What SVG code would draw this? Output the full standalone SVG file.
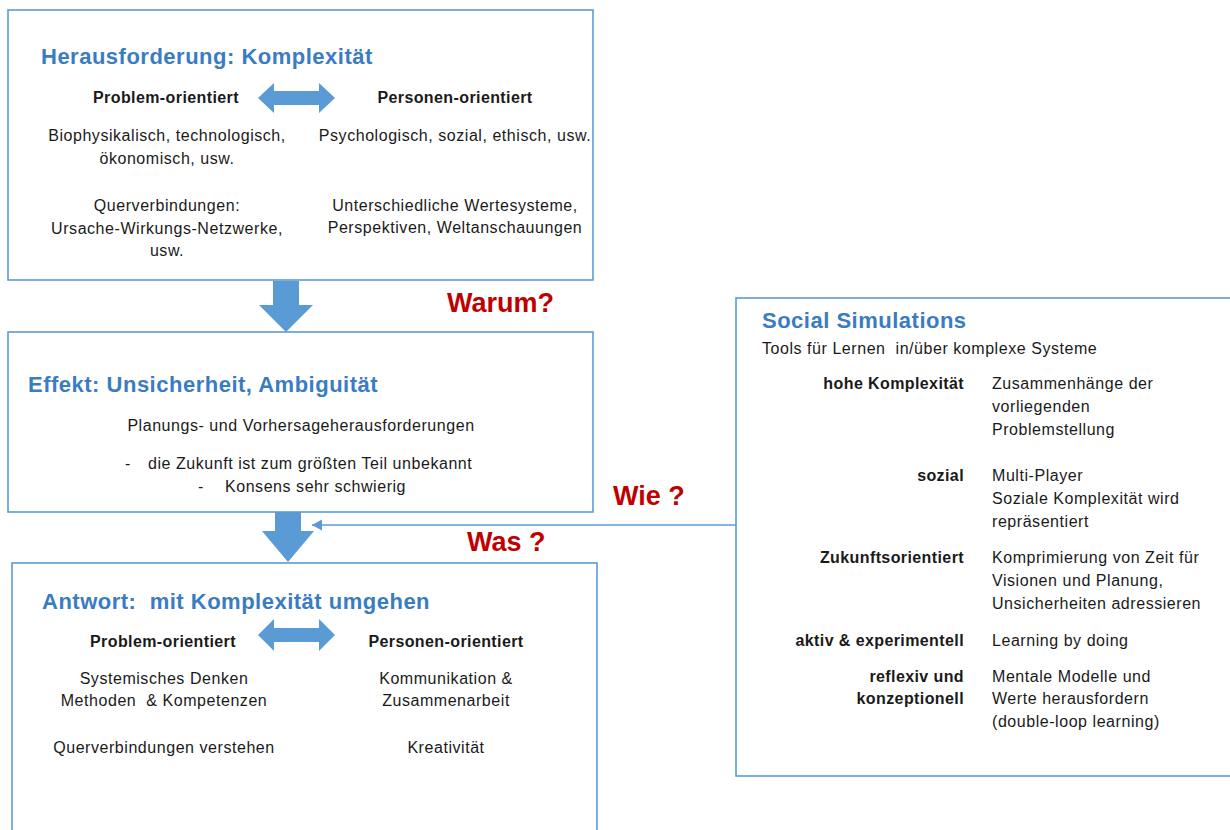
<svg xmlns="http://www.w3.org/2000/svg" width="1230" height="830" viewBox="0 0 1230 830">
<style>
text{white-space:pre}
.box{fill:#ffffff;stroke:#5b9bd5;stroke-width:1.6}
.blk{fill:#5b9bd5}
.title{font-family:"Liberation Sans",Arial,sans-serif;font-weight:bold;font-size:22px;letter-spacing:0.5px;fill:#3a7cc2}
.sub{font-family:"Liberation Sans",Arial,sans-serif;font-weight:bold;font-size:16px;letter-spacing:0.4px;fill:#1a1a1a}
.t{font-family:"Liberation Sans",Arial,sans-serif;font-size:16px;letter-spacing:0.55px;fill:#1a1a1a}
.q{font-family:"Liberation Sans",Arial,sans-serif;font-weight:bold;font-size:27px;fill:#c00000}
.c{text-anchor:middle}
.r{text-anchor:end}
</style>
<defs>
<marker id="ah" markerWidth="12" markerHeight="12" refX="10" refY="6" orient="auto" markerUnits="userSpaceOnUse">
<path d="M0,0.5 L10,6 L0,11.5 Z" fill="#5b9bd5"/>
</marker>
</defs>
<rect width="1230" height="830" fill="#ffffff"/>

<g id="connectors">
<path id="arrow1" class="blk" d="M273,281 L299,281 L299,305 L313,305 L286,332 L259,305 L273,305 Z"/>
<path id="arrow2" class="blk" d="M275,509 L301,509 L301,531 L314,531 L288,562 L262,531 L275,531 Z"/>
<line x1="736" y1="525" x2="312" y2="525" stroke="#5b9bd5" stroke-width="1.4" marker-end="url(#ah)"/>
</g>

<g id="box-herausforderung">
<rect class="box" x="8" y="10" width="585" height="270"/>
<text class="title" x="41" y="64">Herausforderung: Komplexität</text>
<path class="blk" d="M258,98 L274,83 L274,91 L319,91 L319,83 L335,98 L319,113 L319,105 L274,105 L274,113 Z"/>
<text class="sub c" x="166" y="103">Problem-orientiert</text>
<text class="sub c" x="455" y="103">Personen-orientiert</text>
<text class="t c" x="167" y="141">Biophysikalisch, technologisch,</text>
<text class="t c" x="167" y="164">ökonomisch, usw.</text>
<text class="t c" x="167" y="211">Querverbindungen:</text>
<text class="t c" x="167" y="234">Ursache-Wirkungs-Netzwerke,</text>
<text class="t c" x="167" y="256">usw.</text>
<text class="t c" x="455" y="141">Psychologisch, sozial, ethisch, usw.</text>
<text class="t c" x="455" y="211">Unterschiedliche Wertesysteme,</text>
<text class="t c" x="455" y="233">Perspektiven, Weltanschauungen</text>
</g>

<g id="label-warum"><text class="q" x="447" y="312">Warum?</text></g>

<g id="box-effekt">
<rect class="box" x="8" y="332" width="585" height="180"/>
<text class="title" x="28" y="392">Effekt: Unsicherheit, Ambiguität</text>
<text class="t c" x="301" y="431">Planungs- und Vorhersageherausforderungen</text>
<text class="t" x="125" y="469">-</text>
<text class="t" x="148" y="469">die Zukunft ist zum größten Teil unbekannt</text>
<text class="t" x="198" y="492">-</text>
<text class="t" x="225" y="492">Konsens sehr schwierig</text>
</g>

<g id="label-wie"><text class="q" x="613" y="505">Wie ?</text></g>
<g id="label-was"><text class="q" x="467" y="551">Was ?</text></g>

<g id="box-antwort">
<rect class="box" x="12" y="563" width="585" height="280"/>
<text class="title" x="42" y="609">Antwort:  mit Komplexität umgehen</text>
<path class="blk" d="M258,635 L274,619 L274,628 L319,628 L319,619 L335,635 L319,651 L319,642 L274,642 L274,651 Z"/>
<text class="sub c" x="163" y="647">Problem-orientiert</text>
<text class="sub c" x="446" y="647">Personen-orientiert</text>
<text class="t c" x="164" y="684">Systemisches Denken</text>
<text class="t c" x="164" y="706">Methoden  &amp; Kompetenzen</text>
<text class="t c" x="164" y="753">Querverbindungen verstehen</text>
<text class="t c" x="446" y="684">Kommunikation &amp;</text>
<text class="t c" x="446" y="706">Zusammenarbeit</text>
<text class="t c" x="446" y="753">Kreativität</text>
</g>

<g id="box-social">
<rect class="box" x="736" y="298" width="510" height="478"/>
<text class="title" x="762" y="328">Social Simulations</text>
<text class="t" x="762" y="354">Tools für Lernen  in/über komplexe Systeme</text>
<text class="sub r" x="964" y="389">hohe Komplexität</text>
<text class="t" x="992" y="389">Zusammenhänge der</text>
<text class="t" x="992" y="412">vorliegenden</text>
<text class="t" x="992" y="435">Problemstellung</text>
<text class="sub r" x="964" y="481">sozial</text>
<text class="t" x="992" y="481">Multi-Player</text>
<text class="t" x="992" y="504">Soziale Komplexität wird</text>
<text class="t" x="992" y="527">repräsentiert</text>
<text class="sub r" x="964" y="563">Zukunftsorientiert</text>
<text class="t" x="992" y="563">Komprimierung von Zeit für</text>
<text class="t" x="992" y="586">Visionen und Planung,</text>
<text class="t" x="992" y="609">Unsicherheiten adressieren</text>
<text class="sub r" x="964" y="646">aktiv &amp; experimentell</text>
<text class="t" x="992" y="646">Learning by doing</text>
<text class="sub r" x="964" y="682">reflexiv und</text>
<text class="sub r" x="964" y="704">konzeptionell</text>
<text class="t" x="992" y="682">Mentale Modelle und</text>
<text class="t" x="992" y="704">Werte herausfordern</text>
<text class="t" x="992" y="727">(double-loop learning)</text>
</g>
</svg>
